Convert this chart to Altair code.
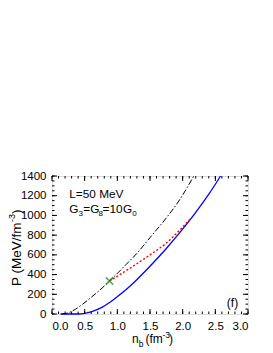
import altair as alt
import pandas as pd

# ---- data ----
black_n = [0.15, 0.25, 0.31, 0.46, 0.61, 0.77, 0.88, 1.02, 1.13, 1.30, 1.50, 1.75, 1.96, 2.17]
black_P = [0, 12, 30, 95, 175, 265, 335, 425, 500, 615, 775, 975, 1165, 1400]

blue_n = [0.13, 0.40, 0.50, 0.61, 0.77, 0.92, 1.07, 1.25, 1.50, 1.75, 1.98, 2.20, 2.40, 2.58]
blue_P = [0, 0, 6, 24, 70, 135, 212, 318, 485, 665, 845, 1030, 1215, 1400]

red_n = [0.88, 1.02, 1.19, 1.50, 1.75, 1.96, 2.13]
red_P = [335, 392, 463, 600, 720, 855, 975]

cross_n = [0.88]
cross_P = [335]

x_major = [0.0, 0.5, 1.0, 1.5, 2.0, 2.5, 3.0]
x_minor = [round(i * 0.1, 1) for i in range(31)]
y_major = [0, 200, 400, 600, 800, 1000, 1200, 1400]
y_minor = [i * 50 for i in range(29)]

W, H = 196, 138
FONT = "Liberation Sans"

xs = alt.Scale(domain=[0, 3], nice=False, zero=False)
ys = alt.Scale(domain=[0, 1400], nice=False)
ax_x = alt.Axis(values=x_major, format=".1f", title=None, ticks=False, tickSize=0,
                domain=False, grid=False, labelPadding=6, labelFontSize=11.5,
                labelFont=FONT, labelColor="black")
ax_y = alt.Axis(values=y_major, format="d", title=None, ticks=False, tickSize=0,
                domain=False, grid=False, labelPadding=6, labelFontSize=11.5,
                labelFont=FONT, labelColor="black")


def curve(nv, pv, color, dash, width):
    df = pd.DataFrame({"n": nv, "P": pv})
    kw = dict(color=color, strokeWidth=width, interpolate="monotone")
    if dash:
        kw["strokeDash"] = dash
    return alt.Chart(df).mark_line(**kw).encode(
        x=alt.X("n:Q", scale=xs, axis=ax_x),
        y=alt.Y("P:Q", scale=ys, axis=ax_y),
    )


layers = []
layers.append(curve(blue_n, blue_P, "#0000ff", None, 1.3))
layers.append(curve(black_n, black_P, "#000000", [6, 2, 1.5, 2], 1.0))
layers.append(curve(red_n, red_P, "#ff0000", [2, 2], 1.4))

cross_df = pd.DataFrame({"n": cross_n, "P": cross_P})
layers.append(alt.Chart(cross_df).mark_point(
    shape="M-1,-1L1,1M1,-1L-1,1", size=55, filled=False, color="#1e8c1e", strokeWidth=1.8
).encode(x=alt.X("n:Q", scale=xs, axis=ax_x), y=alt.Y("P:Q", scale=ys, axis=ax_y)))


# inward ticks on all four sides
def xticks(vals, length):
    df = pd.DataFrame({"v": vals})
    b = alt.Chart(df).mark_rule(color="black", strokeWidth=1).encode(
        x=alt.X("v:Q", scale=xs, axis=ax_x), y=alt.value(H), y2=alt.value(H - length))
    t = alt.Chart(df).mark_rule(color="black", strokeWidth=1).encode(
        x=alt.X("v:Q", scale=xs, axis=ax_x), y=alt.value(0), y2=alt.value(length))
    return [b, t]


def yticks(vals, length):
    df = pd.DataFrame({"v": vals})
    l = alt.Chart(df).mark_rule(color="black", strokeWidth=1).encode(
        y=alt.Y("v:Q", scale=ys, axis=ax_y), x=alt.value(0), x2=alt.value(length))
    r = alt.Chart(df).mark_rule(color="black", strokeWidth=1).encode(
        y=alt.Y("v:Q", scale=ys, axis=ax_y), x=alt.value(W), x2=alt.value(W - length))
    return [l, r]


layers += xticks(x_minor, 2.5) + xticks(x_major, 5)
layers += yticks(y_minor, 2.5) + yticks(y_major, 5)


def txt(s, x, y, size=12, angle=0, align="left", baseline="alphabetic"):
    df = pd.DataFrame({"t": [s]})
    kw = dict(font=FONT, fontSize=size, align=align, baseline=baseline, color="black")
    if angle:
        kw["angle"] = angle
    return alt.Chart(df).mark_text(**kw).encode(
        x=alt.value(x), y=alt.value(y), text="t:N")


# annotation
layers.append(txt("L=50 MeV", 17.3, 22.3, 11.8))
layers.append(txt("G", 17.3, 36.5, 11.8))
layers.append(txt("3", 26.6, 40.0, 8))
layers.append(txt("=G", 31.3, 36.5, 11.8))
layers.append(txt("8", 46.6, 40.0, 8))
layers.append(txt("=10", 50.5, 36.5, 11.8))
layers.append(txt("G", 71.0, 36.5, 11.8))
layers.append(txt("0", 80.3, 40.0, 8))
layers.append(txt("(f)", 180.5, 131, 12, align="center"))

# x title: n_b (fm^-3)
layers.append(txt("n", 80.0, 167.3, 12))
layers.append(txt("b", 86.7, 170.7, 8.5))
layers.append(txt("(fm", 93.5, 167.3, 12))
layers.append(txt("-3", 110.5, 162.4, 8.5))
layers.append(txt(")", 117.0, 167.3, 12))

# y title: P (MeV/fm^-3)
layers.append(txt("P (MeV/fm", -31.5, 110, 13.5, angle=270))
layers.append(txt("-3", -37.0, 46.0, 9, angle=270))
layers.append(txt(")", -31.5, 38.0, 13.5, angle=270))

chart = alt.layer(*layers).properties(
    width=W, height=H,
    autosize=alt.AutoSizeParams(type="none"),
    padding={"left": 44, "top": 168, "right": 17, "bottom": 37},
).configure_view(stroke="black", strokeWidth=1).configure(background="white")

chart.save("out.html", embed_options={"renderer": "svg", "actions": False})
